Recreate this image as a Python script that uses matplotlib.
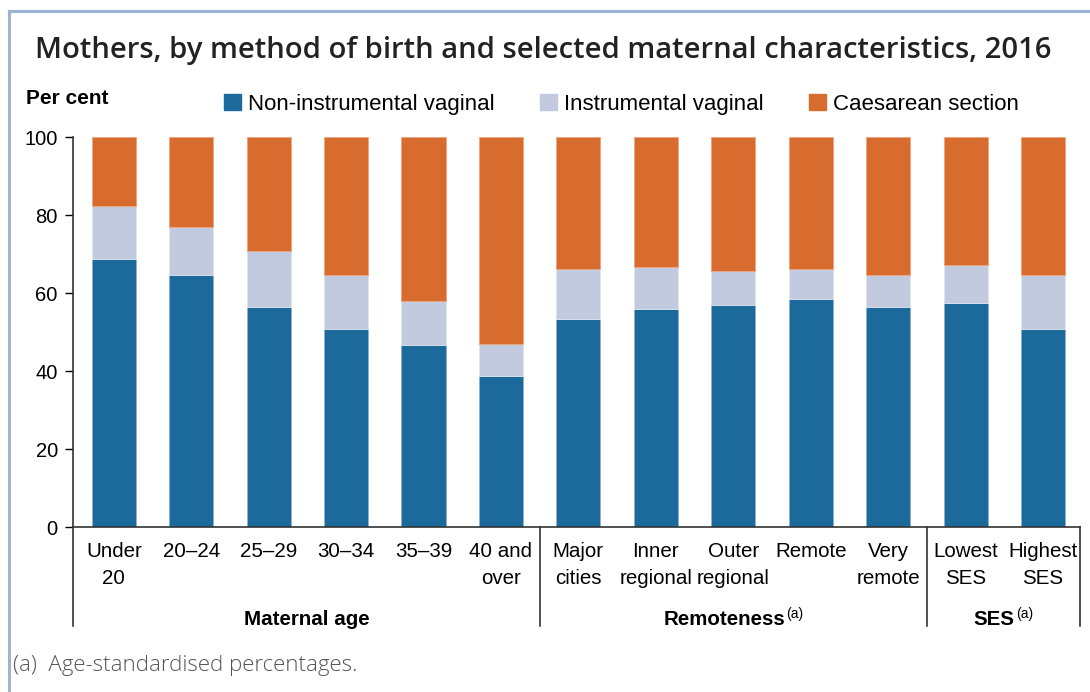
import numpy as np
import matplotlib
matplotlib.use("Agg")
import matplotlib.pyplot as plt
from matplotlib.lines import Line2D
from matplotlib.patches import Patch

# data (per cent)
categories = ["Under\n20", "20–24", "25–29", "30–34", "35–39", "40 and\nover",
              "Major\ncities", "Inner\nregional", "Outer\nregional", "Remote",
              "Very\nremote", "Lowest\nSES", "Highest\nSES"]
non_instr = [68.7, 64.6, 56.4, 50.8, 46.8, 38.7,
             53.3, 55.9, 56.9, 58.5, 56.4, 57.4, 50.8]
instr = [13.6, 12.2, 14.3, 13.8, 11.2, 8.2,
         12.9, 10.8, 8.7, 7.7, 8.2, 9.8, 13.8]
caesar = [100 - a - b for a, b in zip(non_instr, instr)]
groups = ["Maternal age", "Remoteness", "SES"]
group_sizes = [6, 5, 2]
group_notes = ["", "(a)", "(a)"]

c_blue = "#1c6a9b"
c_light = "#c2cadf"
c_orange = "#d86b2e"
sans = ["Liberation Sans", "DejaVu Sans"]
opens = ["Open Sans", "DejaVu Sans"]

fig = plt.figure(figsize=(10.9, 6.92), dpi=100)
ax = fig.add_axes([0.067, 0.2384, 0.924, 0.5636])

x = np.arange(len(categories))
w = 0.57
ax.bar(x, non_instr, w, color=c_blue, edgecolor="#8fb0cc", linewidth=0.6)
ax.bar(x, instr, w, bottom=non_instr, color=c_light, edgecolor="#e0e4ee", linewidth=0.6)
bot2 = [a + b for a, b in zip(non_instr, instr)]
ax.bar(x, caesar, w, bottom=bot2, color=c_orange, edgecolor="#eea57c", linewidth=0.6)

ax.set_xlim(-0.527, len(categories) - 1 + 0.48)
ax.set_ylim(0, 100)
ax.set_yticks([0, 20, 40, 60, 80, 100])
ax.tick_params(axis="y", length=6, width=1, labelsize=14.5, pad=5)
for lab in ax.get_yticklabels():
    lab.set_fontfamily(sans)
ax.set_xticks(x)
ax.set_xticklabels(categories, fontsize=14.8, family=sans, linespacing=1.5)
ax.tick_params(axis="x", length=0, pad=11)
for s in ["top", "right"]:
    ax.spines[s].set_visible(False)
for s in ["left", "bottom"]:
    ax.spines[s].set_color("#333333")
    ax.spines[s].set_linewidth(1.2)

# group separators and labels under the axis
trans = ax.get_xaxis_transform()
edges = [-0.527]
pos = 0
for n in group_sizes:
    pos += n
    edges.append(pos - 0.5)
edges[-1] = len(categories) - 1 + 0.48
for e in edges:
    ax.add_line(Line2D([e, e], [0, -0.255], transform=trans, color="#222222",
                       linewidth=1.1, clip_on=False))

fig.canvas.draw()
renderer = fig.canvas.get_renderer()
for i, (g, note) in enumerate(zip(groups, group_notes)):
    mid = (edges[i] + edges[i + 1]) / 2
    t = ax.text(mid, -0.237, g, transform=trans, ha="center", va="center",
                fontsize=14.8, family=sans, fontweight="bold")
    if note:
        # shift so bold word + note stay centred
        t.set_x(mid - 0.12)
        bb = t.get_window_extent(renderer)
        fig.text((bb.x1 + 1) / fig.bbox.width, bb.y1 / fig.bbox.height + 0.004, note,
                 fontsize=10, family=sans, va="top", ha="left")

# title, legend and notes
fig.text(0.032, 0.927, "Mothers, by method of birth and selected maternal characteristics, 2016",
         fontsize=21.1, family=opens, fontweight="semibold", color="#222222", va="center")
fig.text(0.024, 0.857, "Per cent", fontsize=15, family=sans, fontweight="bold", va="center")
handles = [Patch(color=c_blue), Patch(color=c_light), Patch(color=c_orange)]
fig.legend(handles, ["Non-instrumental vaginal", "Instrumental vaginal", "Caesarean section"],
           loc="center left", bbox_to_anchor=(0.2055, 0.849), ncol=3, frameon=False,
           prop={"family": sans, "size": 16}, handlelength=0.75, handleheight=0.75,
           handletextpad=0.33, columnspacing=2.05, borderaxespad=0, borderpad=0)
fig.text(0.012, 0.038, "(a)  Age-standardised percentages.", fontsize=16,
         family=opens, fontweight="light", color="#555555", va="center")

# frame
fig.add_artist(Line2D([0.0083, 0.0083], [0, 0.984], color="#9fb3d3", linewidth=2.2))
fig.add_artist(Line2D([0.0083, 1.0], [0.984, 0.984], color="#9fb3d3", linewidth=2.2))

fig.savefig("out.png", dpi=100)
